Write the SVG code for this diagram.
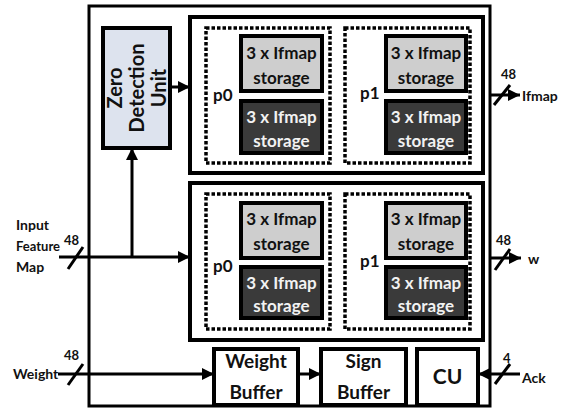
<svg xmlns="http://www.w3.org/2000/svg" width="571" height="409" viewBox="0 0 571 409">
<style>
text{font-family:Lato,"Liberation Sans",sans-serif;font-weight:bold;fill:#111}
.box{fill:#fff;stroke:#000;stroke-width:4}
.mod{fill:#fff;stroke:#000;stroke-width:4}
.dot{fill:none;stroke:#000;stroke-width:3.5;stroke-dasharray:3.5 2}
.lt{fill:#cecece;stroke:#000;stroke-width:4}
.dk{fill:#3a3a3a;stroke:#000;stroke-width:4}
.st{font-size:17px;text-anchor:middle}
.dt{fill:#f2f2f2}
.pl{font-size:17px}
.lbl{font-size:14px}
.bus{font-size:13px}
.big{font-size:19px;text-anchor:middle}
.wire{fill:none;stroke:#000;stroke-width:3}
.sl{stroke:#000;stroke-width:3}
</style>
<defs>
<marker id="ah" viewBox="0 0 10 10" refX="10" refY="5" markerWidth="4" markerHeight="4" orient="auto" markerUnits="strokeWidth">
<path d="M0,0 L10,5 L0,10 z" fill="#000"/>
</marker>
</defs>
<rect width="571" height="409" fill="#fff"/>
<g id="outer"><rect x="89" y="6" width="401" height="400" fill="none" stroke="#000" stroke-width="3"/></g>

<g id="zdu">
<rect x="103" y="28" width="67" height="120" fill="#dde3ee" stroke="#000" stroke-width="4"/>
<text transform="translate(122,88) rotate(-90)" style="font-size:20px;text-anchor:middle">Zero</text>
<text transform="translate(144,88) rotate(-90)" style="font-size:20px;text-anchor:middle">Detection</text>
<text transform="translate(166,88) rotate(-90)" style="font-size:20px;text-anchor:middle">Unit</text>
</g>

<g id="ifmap-module">
<rect class="mod" x="190" y="17" width="293" height="156"/>
<g id="ifmap-p0">
<rect class="dot" x="206" y="28" width="124" height="135"/>
<text class="pl" x="213" y="101">p0</text>
<rect class="lt" x="241" y="36" width="81" height="55"/>
<text class="st" x="281.5" y="59">3 x Ifmap</text>
<text class="st" x="281.5" y="84">storage</text>
<rect class="dk" x="241" y="101" width="81" height="52"/>
<text class="st dt" x="281.5" y="123">3 x Ifmap</text>
<text class="st dt" x="281.5" y="147">storage</text>
</g>
<g id="ifmap-p1">
<rect class="dot" x="345" y="28" width="125" height="135"/>
<text class="pl" x="360" y="99">p1</text>
<rect class="lt" x="386" y="36" width="80" height="55"/>
<text class="st" x="426" y="59">3 x Ifmap</text>
<text class="st" x="426" y="84">storage</text>
<rect class="dk" x="386" y="101" width="80" height="52"/>
<text class="st dt" x="426" y="123">3 x Ifmap</text>
<text class="st dt" x="426" y="147">storage</text>
</g>
</g>

<g id="w-module">
<rect class="mod" x="190" y="183" width="293" height="157"/>
<g id="w-p0">
<rect class="dot" x="206" y="194" width="124" height="135"/>
<text class="pl" x="213" y="272">p0</text>
<rect class="lt" x="241" y="203" width="81" height="55"/>
<text class="st" x="281.5" y="225">3 x Ifmap</text>
<text class="st" x="281.5" y="250">storage</text>
<rect class="dk" x="241" y="267" width="81" height="51"/>
<text class="st dt" x="281.5" y="289">3 x Ifmap</text>
<text class="st dt" x="281.5" y="312">storage</text>
</g>
<g id="w-p1">
<rect class="dot" x="345" y="194" width="125" height="135"/>
<text class="pl" x="360" y="267">p1</text>
<rect class="lt" x="386" y="203" width="80" height="55"/>
<text class="st" x="426" y="225">3 x Ifmap</text>
<text class="st" x="426" y="250">storage</text>
<rect class="dk" x="386" y="267" width="80" height="51"/>
<text class="st dt" x="426" y="289">3 x Ifmap</text>
<text class="st dt" x="426" y="312">storage</text>
</g>
</g>

<g id="weight-buffer">
<rect class="box" x="214" y="349" width="84" height="56"/>
<text class="big" x="256" y="368">Weight</text>
<text class="big" x="256" y="399">Buffer</text>
</g>
<g id="sign-buffer">
<rect class="box" x="321" y="349" width="85" height="56"/>
<text class="big" x="363.5" y="368">Sign</text>
<text class="big" x="363.5" y="399">Buffer</text>
</g>
<g id="cu">
<rect class="box" x="417" y="349" width="61" height="56"/>
<text class="big" x="447.5" y="384" style="font-size:21px">CU</text>
</g>

<g id="labels">
<text class="lbl" x="16" y="230">Input</text>
<text class="lbl" x="16" y="251" textLength="44" lengthAdjust="spacingAndGlyphs">Feature</text>
<text class="lbl" x="16" y="272">Map</text>
<text class="lbl" x="13" y="379">Weight</text>
<text class="lbl" x="522" y="101">Ifmap</text>
<text class="lbl" x="528" y="264">w</text>
<text class="lbl" x="522" y="383">Ack</text>
<text class="bus" x="64" y="245">48</text>
<text class="bus" x="64" y="360">48</text>
<text class="bus" x="501" y="79">48</text>
<text class="bus" x="496" y="245">48</text>
<text class="bus" x="503" y="363">4</text>
</g>

<g id="connectors">
<line class="wire" x1="170" y1="87" x2="190" y2="87" marker-end="url(#ah)"/>
<line class="wire" x1="59" y1="257" x2="190" y2="257" marker-end="url(#ah)"/>
<line class="wire" x1="132" y1="257" x2="132" y2="148" marker-end="url(#ah)"/>
<line class="wire" x1="58" y1="374" x2="214" y2="374" marker-end="url(#ah)"/>
<line class="wire" x1="298" y1="374" x2="321" y2="374" marker-end="url(#ah)"/>
<line class="wire" x1="520" y1="374" x2="478" y2="374" marker-end="url(#ah)"/>
<line class="wire" x1="490" y1="95" x2="520" y2="95" marker-end="url(#ah)"/>
<line class="wire" x1="490" y1="258" x2="521" y2="258" marker-end="url(#ah)"/>
<line class="sl" x1="68" y1="269" x2="83" y2="247"/>
<line class="sl" x1="68" y1="385" x2="83" y2="364"/>
<line class="sl" x1="494" y1="105" x2="510" y2="85"/>
<line class="sl" x1="495" y1="270" x2="510" y2="249"/>
<line class="sl" x1="495" y1="384" x2="510" y2="364"/>
</g>
</svg>
